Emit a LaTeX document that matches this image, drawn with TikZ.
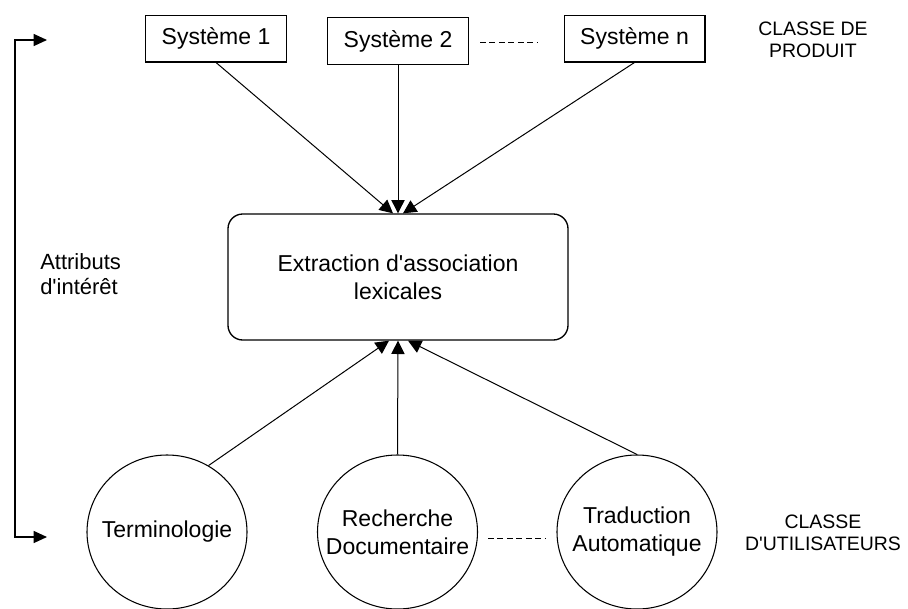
\documentclass[tikz,border=0pt]{standalone}
\usepackage{fontspec}
\setmainfont{Liberation Sans}
\usetikzlibrary{arrows.meta,shapes.geometric,calc}

\begin{document}
\begin{tikzpicture}[x=0.75pt,y=-0.75pt,
  lbl/.style={font=\fontsize{17.25}{21}\selectfont, align=center, inner sep=0pt},
  classlbl/.style={font=\fontsize{14.6}{16.5}\selectfont, align=center, inner sep=0pt},
  sysbox/.style={draw, line width=1pt, minimum width=105.5pt, minimum height=35pt,
    inner sep=0pt, font=\fontsize{17.25}{21}\selectfont},
  corebox/.style={draw, line width=1pt, rounded corners=11pt,
    minimum width=255pt, minimum height=94.5pt, inner sep=0pt},
  usercircle/.style={draw, ellipse, line width=0.8pt, minimum width=120pt,
    minimum height=115.5pt, inner sep=0pt},
  link/.style={line width=0.75pt, -{Triangle[length=10pt,width=10pt]}},
  etc/.style={line width=0.75pt, dash pattern=on 4.5pt off 2.6pt}
]
\useasboundingbox (0,0) rectangle (908,608);

% product class: systems
\node[sysbox] (s1) at (216,38.5) {Système 1};
\node[sysbox] (s2) at (398,41) {Système 2};
\node[sysbox] (sn) at (634.5,38.5) {Système n};
\coordinate (dotsA) at (480,42);
\coordinate (dotsB) at (537,42);
\draw[etc] (dotsA) -- (dotsB);
\node[classlbl] (cprod) at (813,40) {CLASSE DE\\PRODUIT};

% central process
\node[corebox] (ext) at (398,277) {};
\node[lbl] (exttxt) at (ext.center) {Extraction d\textquotesingle association\\lexicales};

% user class: applications
\node[usercircle] (term) at (167,532) {};
\node[lbl] (termtxt) at (term.center) {Terminologie};
\node[usercircle] (rech) at (397.5,532) {};
\node[lbl] (rechtxt) at (rech.center) {Recherche\\Documentaire};
\node[usercircle] (trad) at (637,532) {};
\node[lbl] (tradtxt) at (trad.center) {Traduction\\Automatique};
\coordinate (udotsA) at (488,538);
\coordinate (udotsB) at (545,538);
\draw[etc] (udotsA) -- (udotsB);
\node[classlbl] (cuser) at (823,533) {CLASSE\\D\textquotesingle UTILISATEURS};

% systems feed the extraction
\draw[link] (s1.south) -- ($(ext.north)+(-5,0)$);
\draw[link] (s2.south) -- (ext.north);
\draw[link] (sn.south) -- ($(ext.north)+(5,0)$);

% applications feed the extraction
\draw[link] (term.58) -- ($(ext.south)+(-9,0)$);
\draw[link] (rech.north) -- (ext.south);
\draw[link] (trad.north) -- ($(ext.south)+(10,0)$);

% attributes of interest bracket
\coordinate (brTip1) at (47,40);
\coordinate (brC1) at (15,40);
\coordinate (brC2) at (15,537);
\coordinate (brTip2) at (47,537);
\draw[line width=0.9pt, {Triangle[length=10pt,width=9pt]}-{Triangle[length=10pt,width=9pt]}]
  (brTip1) -- (brC1) -- (brC2) -- (brTip2);
\node[font=\fontsize{16.5}{18.75}\selectfont, align=left, inner sep=0pt, anchor=west]
  (attr) at (40,274.5) {Attributs\\d\textquotesingle intérêt};
\end{tikzpicture}
\end{document}
